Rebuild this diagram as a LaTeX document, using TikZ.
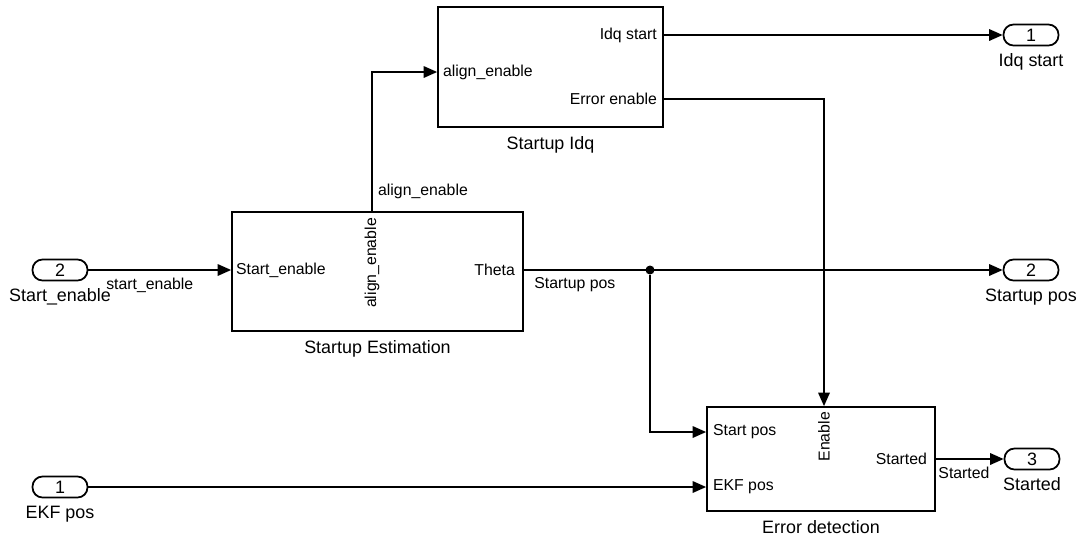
\documentclass[tikz,border=0pt]{standalone}
\usepackage{fontspec}
\setmainfont{Liberation Sans}
\usetikzlibrary{arrows.meta, positioning}

\begin{document}
\begin{tikzpicture}[
                x=0.02cm, y=-0.02cm, % one unit per screen pixel
                every node/.style={font=\fontsize{10.2}{12}\selectfont, inner sep=1pt},
                small/.style={font=\fontsize{9}{11}\selectfont}, % port and signal names
                block/.style={draw, line width=1pt, inner sep=0pt}, % subsystem box
                port/.style={draw, line width=1pt, rounded corners=0.2cm, minimum width=1.1cm, minimum height=0.42cm}, % in/out ports
                wire/.style={line width=1pt, -{Triangle[length=0.27cm, width=0.23cm]}}, % signal lines
                split/.style={circle, fill, inner sep=0pt, minimum size=0.18cm} % branch point
                ]
                \useasboundingbox (0,0) rectangle (1083,538);

                % subsystems
                \node[block, minimum width=5.82cm, minimum height=2.38cm] (est) at (377.5,271.5) {};
                \node[below=4pt of est] {Startup Estimation};
                \node[block, minimum width=4.5cm, minimum height=2.4cm] (idq) at (550.5,67) {};
                \node[below=4pt of idq] {Startup Idq};
                \node[block, minimum width=4.56cm, minimum height=2.08cm] (ed) at (821,459) {};
                \node[below=4pt of ed] {Error detection};

                % port names inside the boxes
                \node[small, anchor=west] (est-se) at (234,270) {Start\_enable};
                \node[small, anchor=east] (est-th) at (517,270) {Theta};
                \node[small, anchor=east, rotate=90] (est-al) at (372,216) {align\_enable};
                \node[small, anchor=west] (idq-al) at (441,72) {align\_enable};
                \node[small, anchor=east] (idq-is) at (659,35) {Idq start};
                \node[small, anchor=east] (idq-ee) at (659,99) {Error enable};
                \node[small, anchor=west] (ed-sp) at (711,432) {Start pos};
                \node[small, anchor=west] (ed-ekf) at (711,487) {EKF pos};
                \node[small, anchor=east] (ed-st) at (929,459) {Started};
                \node[small, anchor=east, rotate=90] (ed-en) at (824,410) {Enable};

                % inports
                \node[port] (in2) at (60,270) {2};
                \node[below=3pt of in2] {Start\_enable};
                \node[port] (in1) at (60,487) {1};
                \node[below=3pt of in1] {EKF pos};

                % outports
                \node[port] (out1) at (1031,35) {1};
                \node[below=3pt of out1] {Idq start};
                \node[port] (out2) at (1031,270) {2};
                \node[below=3pt of out2] {Startup pos};
                \node[port] (out3) at (1032,459) {3};
                \node[below=3pt of out3] {Started};

                % signal lines
                \draw[wire] (in2) -- (est-se -| est.west) node[small, pos=0.43, below=3pt] {start\_enable};
                \draw[wire] (est.north -| est-al) |- (idq-al -| idq.west) node[small, pos=0.07, right=2pt] {align\_enable};
                \draw[wire] (idq-is -| idq.east) -- (out1);
                \draw[wire] (idq-ee -| idq.east) -| (ed.north -| ed-en);
                \node[split] (br) at (650,270) {};
                \draw[wire] (est-th -| est.east) -- (out2) node[small, pos=0, anchor=north west, xshift=4.5pt, yshift=-3pt] {Startup pos};
                \draw[wire] (br) |- (ed-sp -| ed.west);
                \draw[wire] (in1) -- (ed-ekf -| ed.west);
                \draw[wire] (ed-st -| ed.east) -- (out3) node[small, pos=0, anchor=north west, yshift=-3pt] {Started};
            \end{tikzpicture}
\end{document}
